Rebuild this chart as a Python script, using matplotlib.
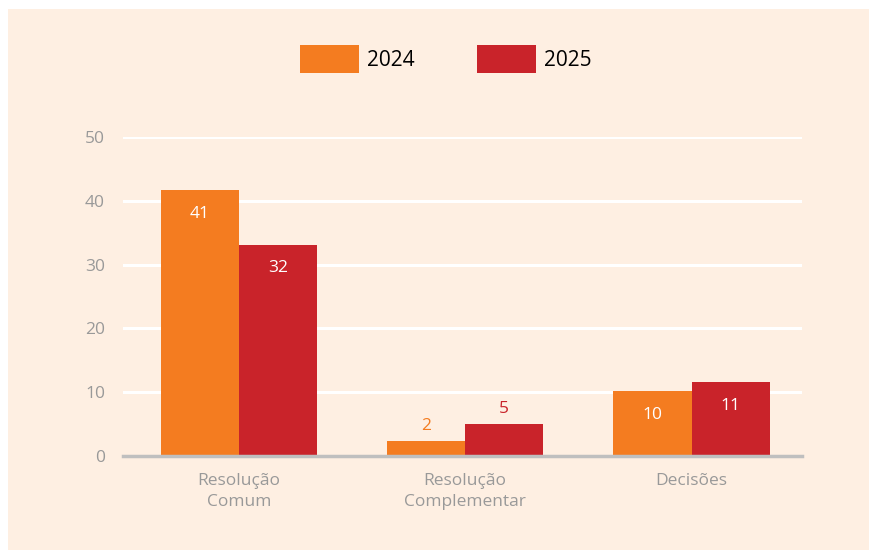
import matplotlib
matplotlib.use("Agg")
import matplotlib.pyplot as plt
from matplotlib.patches import Rectangle, Patch
import numpy as np

categories = ["Resolução\nComum", "Resolução\nComplementar", "Decisões"]
series_names = ["2024", "2025"]
values_2024 = [41.7, 2.35, 10.2]
values_2025 = [33.1, 5.0, 11.6]
labels_2024 = ["41", "2", "10"]
labels_2025 = ["32", "5", "11"]
yticks = [0, 10, 20, 30, 40, 50]

C24 = "#F47C20"
C25 = "#C9232A"
BG = "#FEEFE2"
GRAY = "#999999"

plt.rcParams['font.family'] = ['Open Sans', 'DejaVu Sans']

fig = plt.figure(figsize=(8.7, 5.5), dpi=100)
fig.patch.set_facecolor("white")
fig.patches.append(Rectangle((8/870, 0), 1, 1 - 9/550, transform=fig.transFigure,
                             facecolor=BG, edgecolor="none", zorder=-10))

ax = fig.add_axes([123/870, (550-456)/550, (802-123)/870, (456-137)/550])
ax.set_facecolor(BG)
x = np.arange(len(categories))
w = 0.345
b1 = ax.bar(x - w/2, values_2024, w, color=C24, zorder=3)
b2 = ax.bar(x + w/2, values_2025, w, color=C25, zorder=3)

ax.set_xlim(-0.512, 2.488)
ax.set_ylim(0, 50)
ax.set_yticks(yticks)
ax.set_yticklabels([str(t) for t in yticks], color=GRAY, fontsize=12.5)
ax.set_xticks(x)
ax.set_xticklabels(categories, color=GRAY, fontsize=12.5, linespacing=1.45)
ax.tick_params(axis='both', length=0)
ax.tick_params(axis='y', pad=13)
ax.tick_params(axis='x', pad=12)
for t in yticks[1:]:
    ax.axhline(t, color="white", lw=2.2, zorder=1)
for s in ["top", "right", "left"]:
    ax.spines[s].set_visible(False)
ax.spines["bottom"].set_color("#BFBFBF")
ax.spines["bottom"].set_linewidth(2.5)
ax.spines["bottom"].set_zorder(4)
ax.spines["bottom"].set_clip_on(False)

def annotate(bars, vals, labs, color):
    for bar, v, lab in zip(bars, vals, labs):
        cx = bar.get_x() + bar.get_width()/2
        if v > 8:
            ax.annotate(lab, (cx, v), xytext=(0, -17), textcoords="offset points",
                        ha="center", va="center", color="white", fontsize=12.5, zorder=5)
        else:
            ax.annotate(lab, (cx, v), xytext=(0, 11), textcoords="offset points",
                        ha="center", va="center", color=color, fontsize=12.5, zorder=5)

annotate(b1, values_2024, labels_2024, C24)
annotate(b2, values_2025, labels_2025, C25)

handles = [Patch(facecolor=C24), Patch(facecolor=C25)]
fig.legend(handles, series_names, loc="center", bbox_to_anchor=(446/870, 1 - 59/550),
           ncol=2, frameon=False, fontsize=15, handlelength=2.8, handleheight=1.75,
           columnspacing=3.0, handletextpad=0.4)

fig.savefig("out.png", dpi=100, facecolor=fig.get_facecolor())
